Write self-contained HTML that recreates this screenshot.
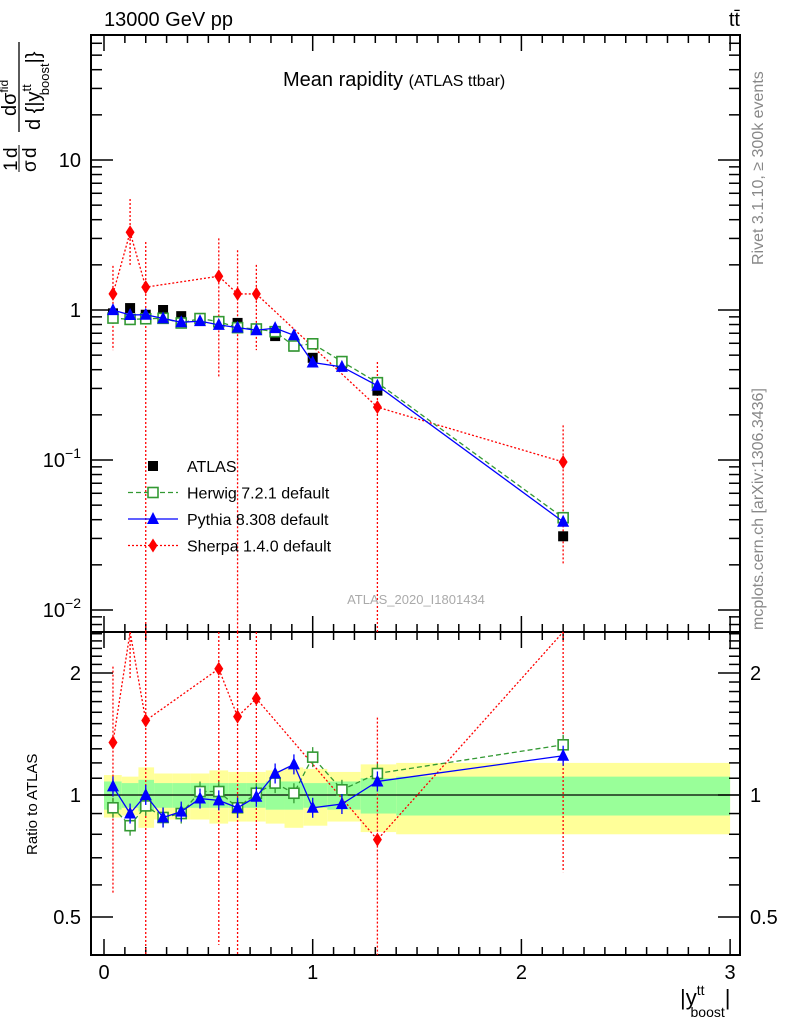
<!DOCTYPE html>
<html><head><meta charset="utf-8"><style>
html,body{margin:0;padding:0;background:#fff;}
svg{display:block;font-family:"Liberation Sans",sans-serif;}
</style></head><body>
<svg id="chart" width="786" height="1024" viewBox="0 0 786 1024" xmlns="http://www.w3.org/2000/svg">
<g id="bands"></g>
<g id="grid"></g>
<g id="series"></g>
<text x="104" y="26" font-size="20">13000 GeV pp</text>
<text x="740" y="26" font-size="20" text-anchor="end">tt̄</text>
<text x="283" y="86" font-size="20">Mean rapidity <tspan font-size="16">(ATLAS ttbar)</tspan></text>
<text x="416" y="604" font-size="13" fill="#aaa" text-anchor="middle">ATLAS_2020_I1801434</text>
<text transform="translate(763,265) rotate(-90)" font-size="16" fill="#888">Rivet 3.1.10, ≥ 300k events</text>
<text transform="translate(763,630) rotate(-90)" font-size="16" fill="#888">mcplots.cern.ch [arXiv:1306.3436]</text>
<g transform="translate(20,172) rotate(-90)" font-size="20">
<text x="1" y="-3" font-size="19">1</text><text x="0" y="16" font-size="19">σ</text>
<text x="14" y="-3" font-size="19">d</text><text x="14" y="16" font-size="19">d</text>
<line x1="0" y1="-1" x2="27" y2="-1" stroke="#000" stroke-width="1"/>
<line x1="40" y1="-1" x2="130" y2="-1" stroke="#000" stroke-width="1.3"/>
<text x="56" y="-4" font-size="20">dσ<tspan font-size="12" dy="-8">fid</tspan></text>
<text x="42" y="20" font-size="20">d {|y<tspan font-size="13" dy="-9">tt</tspan><tspan font-size="13" dy="18" dx="-11">boost</tspan><tspan dy="-9">|}</tspan></text>
</g>
<text transform="translate(37,855) rotate(-90)" font-size="15">Ratio to ATLAS</text>
<text x="680" y="1005" font-size="22">|y<tspan font-size="14" dy="-10">tt</tspan><tspan font-size="14" dy="22" dx="-14">boost</tspan><tspan dy="-12">|</tspan></text>
<g id="legend"></g>
</svg>
<script>
const xCenters=[0.043,0.125,0.2,0.283,0.37,0.46,0.55,0.64,0.73,0.82,0.91,1.0,1.14,1.31,2.2];
const binEdges=[0,0.085,0.165,0.24,0.33,0.415,0.505,0.595,0.685,0.775,0.865,0.955,1.07,1.23,1.4,3.0];
const atlasVals=[0.95,1.03,0.93,1.0,0.91,0.86,0.82,0.82,0.74,0.67,0.57,0.48,0.44,0.29,0.031];
const herwigRatio=[0.93,0.84,0.94,0.88,0.90,1.02,1.02,0.93,1.01,1.07,1.01,1.24,1.03,1.13,1.33];
const pythiaRatio=[1.05,0.90,1.0,0.88,0.91,0.98,0.97,0.93,0.99,1.13,1.19,0.93,0.95,1.08,1.25];
const sherpaX=[0.043,0.125,0.2,0.55,0.64,0.73,1.31,2.2];
const sherpaVals=[1.28,3.3,1.42,1.68,1.28,1.28,0.225,0.097];
const sherpaUp=[1.97,5.5,2.84,3.0,2.5,2.0,0.45,0.17];
const sherpaDn=[0.54,2.0,0.001,0.35,0.001,0.54,0.001,0.02];
const statBand=[0.08,0.07,0.09,0.07,0.07,0.07,0.07,0.07,0.07,0.08,0.08,0.07,0.08,0.10,0.11];
const totBand=[0.12,0.11,0.17,0.13,0.13,0.13,0.15,0.14,0.14,0.15,0.17,0.16,0.14,0.19,0.20];
const mainYTicks=[[10,"10"],[1,"1"],[0.1,"10^-1"],[0.01,"10^-2"]];
const ratioTicks=[2,1,0.5];
const xTicks=[0,1,2,3];

const NS="http://www.w3.org/2000/svg";
const L=91,R=740,T=35,MB=632,RB=955;
const X=v=>104+v*208.7;
const Y=v=>310-150*Math.log10(v);
const RY=v=>795-122*Math.log2(v);
function mk(tag,attrs,parent){const e=document.createElementNS(NS,tag);for(const k in attrs)e.setAttribute(k,attrs[k]);parent.appendChild(e);return e;}
const clampM=y=>Math.max(T,Math.min(MB,y));
const clampR=y=>Math.max(MB,Math.min(RB,y));
const bands=document.getElementById('bands'),grid=document.getElementById('grid'),ser=document.getElementById('series'),leg=document.getElementById('legend');

for(let i=0;i<xCenters.length;i++){
  const x0=X(binEdges[i]),x1=X(binEdges[i+1]);
  let r=mk('rect',{x:x0,y:RY(1+totBand[i]),width:x1-x0,height:RY(1-totBand[i])-RY(1+totBand[i]),fill:'#ffff99'},bands);
  
  
  r=mk('rect',{x:x0,y:RY(1+statBand[i]),width:x1-x0,height:RY(1-statBand[i])-RY(1+statBand[i]),fill:'#99ff99'},bands);
  
  
}
mk('rect',{x:L,y:T,width:R-L,height:MB-T,fill:'none',stroke:'#000','stroke-width':2},grid);
mk('rect',{x:L,y:MB,width:R-L,height:RB-MB,fill:'none',stroke:'#000','stroke-width':2},grid);
mk('line',{x1:L,y1:RY(1),x2:R,y2:RY(1),stroke:'#000','stroke-width':1.2},grid);
for(let v=0;v<=3.05;v+=0.1){
  const big=Math.abs(v-Math.round(v))<1e-6;const len=big?16:8;const x=X(v);
  if(x<L||x>R)continue;
  for(const [yb,d] of [[MB,-1],[T,1],[RB,-1],[MB,1]]){mk('line',{x1:x,y1:yb,x2:x,y2:yb+d*len,stroke:'#000','stroke-width':1.5},grid);}
}
for(const t of xTicks){const e=mk('text',{x:X(t),y:979,'font-size':20,'text-anchor':'middle'},grid);e.textContent=t;

}
for(let d=-3;d<=2;d++){for(let m=1;m<=9;m++){const v=m*Math.pow(10,d);const y=Y(v);if(y<T||y>MB)continue;const len=m==1?22:11;
mk('line',{x1:L,y1:y,x2:L+len,y2:y,stroke:'#000','stroke-width':1.5},grid);mk('line',{x1:R,y1:y,x2:R-len,y2:y,stroke:'#000','stroke-width':1.5},grid);}}
for(const [v,l] of mainYTicks){const e=mk('text',{x:81,y:Y(v)+7,'font-size':20,'text-anchor':'end'},grid);


if(l.includes('^')){const p=l.split('^');e.textContent=p[0];const s=mk('tspan',{dy:-9,'font-size':14},e);s.textContent=p[1].replace('-','−');}else e.textContent=l;}
for(let v=0.4;v<=2.6;v+=0.1){const y=RY(v);if(y<MB||y>RB)continue;const maj=[0.5,1,2].some(q=>Math.abs(q-v)<1e-6);const len=maj?22:11;
mk('line',{x1:L,y1:y,x2:L+len,y2:y,stroke:'#000','stroke-width':1.5},grid);mk('line',{x1:R,y1:y,x2:R-len,y2:y,stroke:'#000','stroke-width':1.5},grid);}
for(const v of ratioTicks){for(const [x,a] of [[81,'end'],[750,'start']]){const e=mk('text',{x:x,y:RY(v)+7,'font-size':20,'text-anchor':a},grid);e.textContent=v;

}}

function line(pts,col,dash,clamp){const p=pts.map(q=>q[0]+','+clamp(q[1])).join(' ');return mk('polyline',{points:p,fill:'none',stroke:col,'stroke-width':1.3,'stroke-dasharray':dash},ser);}
function marker(type,x,y,col){
  let e;
  if(type==='sq')e=mk('rect',{x:x-5,y:y-5,width:10,height:10,fill:'#000'},ser);
  else if(type==='osq')e=mk('rect',{x:x-5,y:y-5,width:10,height:10,fill:'#fff',stroke:col,'stroke-width':1.6},ser);
  else if(type==='tri')e=mk('polygon',{points:`${x},${y-7} ${x-6},${y+5} ${x+6},${y+5}`,fill:col},ser);
  else e=mk('polygon',{points:`${x},${y-7} ${x-4.5},${y} ${x},${y+7} ${x+4.5},${y}`,fill:col},ser);
  return e;
}
function errbar(x,y1,y2,col,dash){mk('line',{x1:x,y1:y1,x2:x,y2:y2,stroke:col,'stroke-width':1.3,'stroke-dasharray':dash||''},ser);}
const hMain=xCenters.map((x,i)=>[X(x),Y(atlasVals[i]*herwigRatio[i])]);
const pMain=xCenters.map((x,i)=>[X(x),Y(atlasVals[i]*pythiaRatio[i])]);
const sMain=sherpaX.map((x,i)=>[X(x),Y(sherpaVals[i])]);
line(sMain,'#f00','2,2',clampM);
sherpaX.forEach((x,i)=>errbar(X(x),clampM(Y(sherpaUp[i])),clampM(Y(sherpaDn[i])),'#f00','2,2'));
xCenters.forEach((x,i)=>{const e=marker('sq',X(x),Y(atlasVals[i]));});
line(hMain,'#393','5,3',clampM);
hMain.forEach(p=>{const e=marker('osq',p[0],p[1],'#393');});
line(pMain,'#00f','',clampM);
pMain.forEach(p=>{const e=marker('tri',p[0],p[1],'#00f');});
sMain.forEach(p=>{const e=marker('dia',p[0],p[1],'#f00');});
const sAtl=sherpaX.map(x=>atlasVals[xCenters.indexOf(x)]);
const sR=sherpaX.map((x,i)=>[X(x),RY(sherpaVals[i]/sAtl[i])]);
line(sR,'#f00','2,2',clampR);
sherpaX.forEach((x,i)=>errbar(X(x),clampR(RY(sherpaUp[i]/sAtl[i])),clampR(RY(sherpaDn[i]/sAtl[i])),'#f00','2,2'));
const hR=xCenters.map((x,i)=>[X(x),RY(herwigRatio[i])]);
const pR=xCenters.map((x,i)=>[X(x),RY(pythiaRatio[i])]);
line(hR,'#393','5,3',clampR);
hR.forEach(p=>{errbar(p[0],p[1]-10,p[1]+10,'#393');const e=marker('osq',p[0],p[1],'#393');});
line(pR,'#00f','',clampR);
pR.forEach(p=>{errbar(p[0],p[1]-10,p[1]+10,'#00f');const e=marker('tri',p[0],p[1],'#00f');});
sR.forEach(p=>{if(p[1]>MB){const e=marker('dia',p[0],p[1],'#f00');}});
const entries=[['sq','#000','ATLAS',''],['osq','#393','Herwig 7.2.1 default','5,3'],['tri','#00f','Pythia 8.308 default',''],['dia','#f00','Sherpa 1.4.0 default','2,2']];
entries.forEach((en,i)=>{const y=466+i*26.5;
  if(i>0)mk('line',{x1:128,y1:y,x2:178,y2:y,stroke:en[1],'stroke-width':1.3,'stroke-dasharray':en[3]},leg);
  const m=marker(en[0],153,y,en[1]);leg.appendChild(m);
  
  
  const t=mk('text',{x:187,y:y+6,'font-size':16},leg);t.textContent=en[2];
  
  
});
</script>
</body></html>
